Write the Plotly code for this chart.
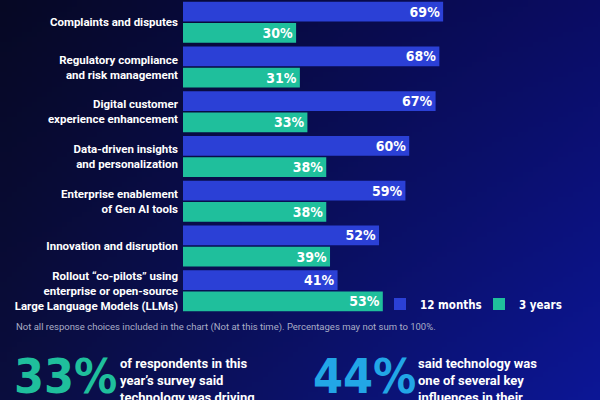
import zlib, struct, base64
import plotly.graph_objects as go

categories = [
    "Complaints and disputes",
    "Regulatory compliance<br>and risk management",
    "Digital customer<br>experience enhancement",
    "Data-driven insights<br>and personalization",
    "Enterprise enablement<br>of Gen AI tools",
    "Innovation and disruption",
    "Rollout “co-pilots” using<br>enterprise or open-source<br>Large Language Models (LLMs)",
]
months_12 = [69, 68, 67, 60, 59, 52, 41]
years_3 = [30, 31, 33, 38, 38, 39, 53]
series_names = ["12 months", "3 years"]

footnote = "Not all response choices included in the chart (Not at this time). Percentages may not sum to 100%."
stat_1 = "33%"
stat_1_text = "of respondents in this<br>year’s survey said<br>technology was driving"
stat_2 = "44%"
stat_2_text = "said technology was<br>one of several key<br>influences in their"

BLUE = "#2b40d6"
TEAL = "#1fbf9c"
LIGHTBLUE = "#22a6e6"
W, H = 600, 400


def gradient_png(w, h):
    tl, tr, bl, br = (6, 8, 36), (10, 12, 100), (10, 13, 62), (12, 22, 150)
    rows = []
    for j in range(h):
        v = j / (h - 1)
        row = bytearray([0])
        for i in range(w):
            u = i / (w - 1)
            for k in range(3):
                top = tl[k] * (1 - u) + tr[k] * u
                bot = bl[k] * (1 - u) + br[k] * u
                row.append(int(round(top * (1 - v) + bot * v)))
        rows.append(bytes(row))
    raw = b"".join(rows)

    def chunk(t, d):
        c = struct.pack(">I", len(d)) + t + d
        return c + struct.pack(">I", zlib.crc32(t + d) & 0xFFFFFFFF)

    png = (b"\x89PNG\r\n\x1a\n"
           + chunk(b"IHDR", struct.pack(">IIBBBBB", w, h, 8, 2, 0, 0, 0))
           + chunk(b"IDAT", zlib.compress(raw))
           + chunk(b"IEND", b""))
    return "data:image/png;base64," + base64.b64encode(png).decode()


COND = "DejaVu Sans Condensed, sans-serif"
SANS = "Roboto, Liberation Sans, Arial, sans-serif"

fig = go.Figure()
for name, vals, col in [(series_names[0], months_12, BLUE), (series_names[1], years_3, TEAL)]:
    fig.add_trace(go.Bar(
        y=categories, x=vals, name=name, orientation="h",
        marker=dict(color=col, line=dict(width=0)),
        text=[f"{v}%" for v in vals], textposition="inside", insidetextanchor="end",
        constraintext="none",
        insidetextfont=dict(family=COND, size=14, color="white", weight="bold"),
        hoverinfo="skip",
    ))

x0 = 183 / W
fig.update_layout(
    width=W, height=H,
    margin=dict(l=0, r=0, t=0, b=0, autoexpand=False),
    paper_bgcolor="#080b3a", plot_bgcolor="rgba(0,0,0,0)",
    barmode="group", bargap=0.05, bargroupgap=0.07,
    xaxis=dict(range=[0, 100], domain=[x0, x0 + 377 / W], visible=False, fixedrange=True,
               automargin=False),
    yaxis=dict(type="category", autorange="reversed", domain=[1 - 313 / H, 1],
               automargin=False,
               showgrid=False, zeroline=False, showline=False, ticks="",
               ticklabelstandoff=4,
               tickfont=dict(family=SANS, size=11.5, color="white", weight="bold")),
    showlegend=True,
    legend=dict(orientation="h", x=380 / W, y=1 - 304 / H, xanchor="left", yanchor="middle",
                font=dict(family=COND, size=11.5, color="white", weight="bold"),
                bgcolor="rgba(0,0,0,0)", traceorder="normal", itemwidth=30,
                entrywidth=54, entrywidthmode="pixels"),
    images=[dict(source=gradient_png(120, 80), xref="paper", yref="paper", x=0, y=1,
                 sizex=1, sizey=1, sizing="stretch", layer="below", xanchor="left", yanchor="top")],
    annotations=[
        dict(text=footnote, x=14 / W, y=1 - 327 / H, xref="paper", yref="paper",
             xanchor="left", yanchor="middle", showarrow=False,
             font=dict(family=SANS, size=9.5, color="#a9adc6")),
        dict(text=stat_1, x=12 / W, y=1 - 346 / H, xref="paper", yref="paper",
             xanchor="left", yanchor="top", showarrow=False,
             font=dict(family=COND, size=48, color=TEAL, weight="bold")),
        dict(text=stat_1_text, x=118 / W, y=1 - 354 / H, xref="paper", yref="paper",
             xanchor="left", yanchor="top", align="left", showarrow=False,
             font=dict(family=SANS, size=13, color="white", weight="bold")),
        dict(text=stat_2, x=311 / W, y=1 - 346 / H, xref="paper", yref="paper",
             xanchor="left", yanchor="top", showarrow=False,
             font=dict(family=COND, size=48, color=LIGHTBLUE, weight="bold")),
        dict(text=stat_2_text, x=416 / W, y=1 - 354 / H, xref="paper", yref="paper",
             xanchor="left", yanchor="top", align="left", showarrow=False,
             font=dict(family=SANS, size=13, color="white", weight="bold")),
    ],
)

fig.write_html("out.html", config=dict(displayModeBar=False),
               post_script="document.body.style.margin='0';document.body.style.overflow='hidden';")
